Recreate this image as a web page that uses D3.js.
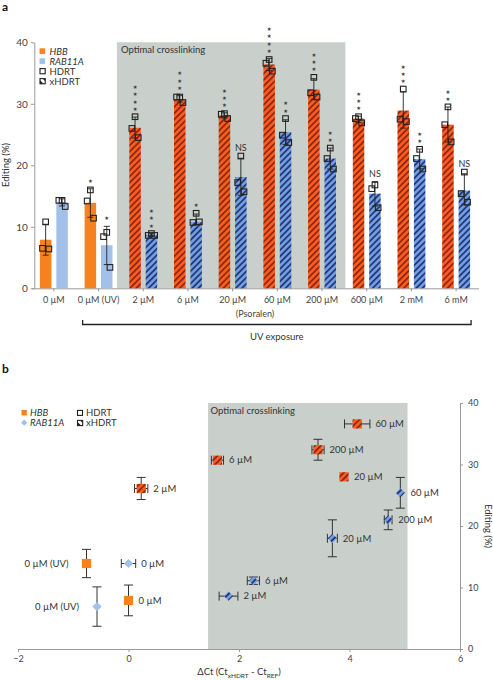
<!DOCTYPE html>
<html><head><meta charset="utf-8">
<script src="https://cdn.jsdelivr.net/npm/d3@7"></script>
<style>body{margin:0;background:#fff}svg{display:block;font-family:Lato,"Open Sans",sans-serif}</style>
</head><body><svg id="c" width="493" height="680"></svg>
<script>
// ---------- Panel a data ----------
const categories = ["0 µM","0 µM (UV)","2 µM","6 µM","20 µM","60 µM","200 µM","600 µM","2 mM","6 mM"];
const hbbMean = [7.9, 13.9, 26.1, 30.7, 28.1, 36.4, 32.3, 27.6, 28.9, 26.6];
const rabMean = [14.0, 7.0, 8.7, 10.8, 18.1, 25.4, 21.1, 15.4, 21.0, 15.9];
const hbbPoints = [[10.8,6.5,6.4],[16.0,14.2,11.4],[27.9,26.0,24.5],[31.1,31.1,30.2],[28.4,28.3,27.6],[37.2,36.6,35.3],[34.3,31.8,31.1],[27.9,27.6,26.9],[32.4,27.5,27.1],[29.5,26.6,23.8]];
const rabPoints = [[14.3,14.3,13.3],[9.1,8.4,3.4],[8.9,8.6,8.6],[12.2,10.7,10.8],[21.5,17.2,15.7],[27.6,24.9,23.7],[22.8,21.1,19.4],[16.8,16.2,13.1],[22.6,21.1,19.4],[18.9,15.4,14.0]];
const hbbSig = ["","*","****","***","***","****","***","***","***","**"];
const rabSig = ["","*","***","*","NS","**","**","NS","**","NS"];
const templateA = ["HDRT","HDRT","xHDRT","xHDRT","xHDRT","xHDRT","xHDRT","xHDRT","xHDRT","xHDRT"];
const shadedA = ["2 µM","200 µM"];
const yTicksA = [0,10,20,30,40];

// ---------- Panel b data ----------
const hbbLabelsB = ["0 µM","0 µM (UV)","2 µM","6 µM","20 µM","60 µM","200 µM"];
const hbbDct = [0.0, -0.76, 0.23, 1.61, 3.90, 4.14, 3.43];
const hbbDctErr = [0, 0, 0.12, 0.11, 0, 0.23, 0.11];
const hbbEdit = [7.9, 13.9, 26.1, 30.7, 28.0, 36.6, 32.4];
const hbbEditErr = [2.5, 2.3, 1.8, 0, 0, 0.4, 1.7];
const hbbTypeB = ["HDRT","HDRT","xHDRT","xHDRT","xHDRT","xHDRT","xHDRT"];
const hbbSideB = ["right","left","right","right","right","right","right"];
const rabLabelsB = ["0 µM","0 µM (UV)","2 µM","6 µM","20 µM","60 µM","200 µM"];
const rabDct = [0.0, -0.57, 1.81, 2.26, 3.69, 4.92, 4.70];
const rabDctErr = [0.13, 0, 0.17, 0.11, 0.09, 0, 0.07];
const rabEdit = [13.9, 6.9, 8.6, 11.1, 18.0, 25.4, 21.0];
const rabEditErr = [0, 3.2, 0, 0.6, 3.0, 2.5, 1.6];
const rabTypeB = ["HDRT","HDRT","xHDRT","xHDRT","xHDRT","xHDRT","xHDRT"];
const rabSideB = ["right","left","right","right","right","right","right"];
const shadedB = [1.44, 5.05];
const xTicksB = [-2,0,2,4,6];
const yTicksB = [0,10,20,30,40];

// ---------- styles ----------
const C = {orange:"#f5821f", blue:"#a3c1e8", gray:"#c9cfcb", axis:"#9a9a9a", text:"#333", ink:"#222"};
const svg = d3.select("#c");
const defs = svg.append("defs");
function hatch(id, base, stripe){
  const s=4.4;
  const p=defs.append("pattern").attr("id",id).attr("patternUnits","userSpaceOnUse")
    .attr("width",s).attr("height",s).attr("patternTransform","rotate(45)");
  p.append("rect").attr("width",s).attr("height",s).attr("fill",base);
  p.append("rect").attr("width",1.7).attr("height",s).attr("fill",stripe);
}
hatch("hO","#ff5a20","#8a2812");
hatch("hB","#6f9de6","#25346e");

function mean(a){return d3.mean(a);}
function sd(a){return d3.deviation(a);}

// ================= PANEL A =================
svg.append("text").attr("x",2).attr("y",11).attr("font-weight","bold").attr("font-size",12).attr("fill","#111").text("a");

const xA = d3.scaleBand().domain(categories).range([31.5,478.5]);
const yA = d3.scaleLinear().domain([0,40]).range([288.3,42.3]);
const bw = 11.5, off = 8.2;
const gA = svg.append("g");

// shading
gA.append("rect").attr("x",xA(shadedA[0])-4).attr("y",yA(40))
  .attr("width",xA(shadedA[1])+xA.bandwidth()+1-(xA(shadedA[0])-4))
  .attr("height",yA(0)-yA(40)).attr("fill",C.gray);
gA.append("text").attr("x",xA(shadedA[0])).attr("y",yA(40)+11).attr("font-size",9.5).attr("fill",C.text).text("Optimal crosslinking");

// axes
const yAx = gA.append("g").attr("transform","translate(34.3,0)")
  .call(d3.axisLeft(yA).tickValues(yTicksA).tickSize(3.5).tickSizeOuter(0).tickPadding(3));
const xAx = gA.append("g").attr("transform",`translate(0,${yA(0)})`)
  .call(d3.axisBottom(xA).tickSize(3).tickSizeOuter(0).tickPadding(5));
[yAx,xAx].forEach(a=>{
  a.select(".domain").attr("stroke",C.axis);
  a.selectAll(".tick line").attr("stroke",C.axis);
  a.selectAll(".tick text").attr("fill","#444").attr("font-size",9).attr("font-family","Lato,sans-serif");
});
yAx.selectAll(".tick text").attr("font-size",10);

svg.append("text").attr("transform","translate(9,165) rotate(-90)").attr("text-anchor","middle")
  .attr("font-size",9.5).attr("fill",C.text).text("Editing (%)");

// bars
const jitter = [0,-3.2,3.2];
function drawGroup(means, pts, sig, dx, solid, pat){
  categories.forEach((c,i)=>{
    const cx = xA(c)+xA.bandwidth()/2+dx;
    const fill = templateA[i]==="HDRT" ? solid : `url(#${pat})`;
    gA.append("rect").attr("x",cx-bw/2).attr("y",yA(means[i])).attr("width",bw)
      .attr("height",yA(0)-yA(means[i])).attr("fill",fill);
  });
  categories.forEach((c,i)=>{
    const cx = xA(c)+xA.bandwidth()/2+dx;
    const m = mean(pts[i]), s = sd(pts[i]);
    const lo = m-s, hi = m+s;
    gA.append("line").attr("x1",cx).attr("x2",cx).attr("y1",yA(lo)).attr("y2",yA(hi)).attr("stroke",C.ink).attr("stroke-width",0.9);
    [lo,hi].forEach(v=>gA.append("line").attr("x1",cx-3).attr("x2",cx+3).attr("y1",yA(v)).attr("y2",yA(v)).attr("stroke",C.ink).attr("stroke-width",0.9));
    pts[i].forEach((v,k)=>{
      gA.append("rect").attr("x",cx+jitter[k]-2.8).attr("y",yA(v)-2.8).attr("width",5.6).attr("height",5.6)
        .attr("fill","none").attr("stroke",C.ink).attr("stroke-width",1.1);
    });
    const top = Math.max(d3.max(pts[i]), hi);
    if(sig[i]==="NS"){
      gA.append("text").attr("x",cx).attr("y",yA(top)-5).attr("text-anchor","middle")
        .attr("font-size",9).attr("fill",C.text).text("NS");
    } else {
      for(let k=0;k<sig[i].length;k++){
        const yc = yA(top)-8-k*7.2;
        gA.append("text").attr("x",cx).attr("y",yc+2.1).attr("text-anchor","middle")
          .attr("font-family","DejaVu Sans").attr("font-size",5.4).attr("fill","#3a3a3a").text("★");
      }
    }
  });
}
drawGroup(hbbMean,hbbPoints,hbbSig,-off,C.orange,"hO");
drawGroup(rabMean,rabPoints,rabSig,off,C.blue,"hB");

// x labels extras
svg.append("text").attr("x",(xA.range()[0]+xA.range()[1])/2).attr("y",317).attr("text-anchor","middle")
  .attr("font-size",9).attr("fill","#444").text("(Psoralen)");
const bx0 = xA(categories[1])+xA.bandwidth()/2-off-bw/2-2, bx1 = xA(categories[9])+xA.bandwidth()/2+off+bw/2+1;
svg.append("path").attr("d",`M${bx0},320 V324.5 H${bx1} V320`).attr("fill","none").attr("stroke","#222").attr("stroke-width",1.3);
svg.append("text").attr("x",(bx0+bx1)/2).attr("y",340).attr("text-anchor","middle").attr("font-size",9.5).attr("fill",C.text).text("UV exposure");

// legend a
const lgA = svg.append("g").attr("font-size",9.5).attr("fill",C.text);
lgA.append("rect").attr("x",39.5).attr("y",48.3).attr("width",5.6).attr("height",5.6).attr("fill",C.orange);
lgA.append("text").attr("x",49.5).attr("y",54.8).attr("font-style","italic").text("HBB");
lgA.append("rect").attr("x",39.5).attr("y",58.3).attr("width",5.6).attr("height",5.6).attr("fill",C.blue);
lgA.append("text").attr("x",49.5).attr("y",64.8).attr("font-style","italic").text("RAB11A");
lgA.append("rect").attr("x",40).attr("y",68.6).attr("width",5.2).attr("height",5.2).attr("fill","none").attr("stroke",C.ink).attr("stroke-width",1.1);
lgA.append("text").attr("x",49.5).attr("y",75).text("HDRT");
function xIcon(g,x,y){
  g.append("path").attr("d",`M${x},${y+5.2} L${x},${y+1.6} L${x+3.6},${y+5.2} Z M${x+2.6},${y} L${x+5.2},${y} L${x+5.2},${y+2.6} Z`).attr("fill",C.ink);
  g.append("rect").attr("x",x).attr("y",y).attr("width",5.2).attr("height",5.2).attr("fill","none").attr("stroke",C.ink).attr("stroke-width",1.1);
}
xIcon(lgA,40,78.6);
lgA.append("text").attr("x",49.5).attr("y",85).text("xHDRT");

// ================= PANEL B =================
svg.append("text").attr("x",2).attr("y",373).attr("font-weight","bold").attr("font-size",12).attr("fill","#111").text("b");
const xB = d3.scaleLinear().domain([-2,6]).range([18,460]);
const yB = d3.scaleLinear().domain([0,40]).range([649,403]);
const gB = svg.append("g");
gB.append("rect").attr("x",xB(shadedB[0])).attr("y",yB(40)).attr("width",xB(shadedB[1])-xB(shadedB[0]))
  .attr("height",yB(0)-yB(40)).attr("fill",C.gray);
gB.append("text").attr("x",xB(shadedB[0])+2.5).attr("y",yB(40)+11).attr("font-size",9.5).attr("fill",C.text).text("Optimal crosslinking");

const xBx = gB.append("g").attr("transform",`translate(0,${yB(0)})`)
  .call(d3.axisBottom(xB).tickValues(xTicksB).tickSize(3).tickSizeOuter(0).tickPadding(4));
const yBx = gB.append("g").attr("transform",`translate(${xB(6)},0)`)
  .call(d3.axisRight(yB).tickValues(yTicksB).tickSize(3).tickSizeOuter(0).tickPadding(5));
[xBx,yBx].forEach(a=>{
  a.select(".domain").attr("stroke",C.axis);
  a.selectAll(".tick line").attr("stroke",C.axis);
  a.selectAll(".tick text").attr("fill","#444").attr("font-size",9).attr("font-family","Lato,sans-serif");
});
const xt = svg.append("text").attr("x",239).attr("y",675).attr("text-anchor","middle").attr("font-size",9.5).attr("fill",C.text);
xt.append("tspan").text("ΔCt (Ct");
xt.append("tspan").attr("font-size",6.5).attr("dy",2.5).text("xHDRT");
xt.append("tspan").attr("dy",-2.5).text(" - Ct");
xt.append("tspan").attr("font-size",6.5).attr("dy",2.5).text("REF");
xt.append("tspan").attr("dy",-2.5).text(")");
svg.append("text").attr("transform","translate(485,526) rotate(90)").attr("text-anchor","middle")
  .attr("font-size",9.5).attr("fill",C.text).text("Editing (%)");

function drawB(labels,dct,dctErr,edit,editErr,type,side,shape,solid,pat){
  labels.forEach((lab,i)=>{
    const cx=xB(dct[i]), cy=yB(edit[i]);
    if(editErr[i]>0){
      const y1=yB(edit[i]-editErr[i]), y2=yB(edit[i]+editErr[i]);
      gB.append("line").attr("x1",cx).attr("x2",cx).attr("y1",y1).attr("y2",y2).attr("stroke","#333").attr("stroke-width",1);
      [y1,y2].forEach(y=>gB.append("line").attr("x1",cx-4.5).attr("x2",cx+4.5).attr("y1",y).attr("y2",y).attr("stroke","#333").attr("stroke-width",1));
    }
    if(dctErr[i]>0){
      const x1=xB(dct[i]-dctErr[i]), x2=xB(dct[i]+dctErr[i]);
      gB.append("line").attr("x1",x1).attr("x2",x2).attr("y1",cy).attr("y2",cy).attr("stroke","#333").attr("stroke-width",1);
      [x1,x2].forEach(x=>gB.append("line").attr("x1",x).attr("x2",x).attr("y1",cy-4.5).attr("y2",cy+4.5).attr("stroke","#333").attr("stroke-width",1));
    }
    const fill = type[i]==="HDRT" ? solid : `url(#${pat})`;
    if(shape==="square"){
      gB.append("rect").attr("x",cx-4.6).attr("y",cy-4.6).attr("width",9.2).attr("height",9.2).attr("fill",fill);
    } else {
      const r=4.6;
      gB.append("path").attr("d",`M${cx},${cy-r} L${cx+r},${cy} L${cx},${cy+r} L${cx-r},${cy} Z`).attr("fill",fill);
    }
    const t = gB.append("text").attr("y",cy+3.3).attr("font-size",9.5).attr("fill",C.text).text(lab);
    if(side[i]==="left"){
      t.attr("x",cx-18).attr("text-anchor","end");
    } else {
      const edge = Math.max(cx+4.6, xB(dct[i]+dctErr[i]));
      t.attr("x",edge+5.5);
    }
  });
}
drawB(hbbLabelsB,hbbDct,hbbDctErr,hbbEdit,hbbEditErr,hbbTypeB,hbbSideB,"square",C.orange,"hO");
drawB(rabLabelsB,rabDct,rabDctErr,rabEdit,rabEditErr,rabTypeB,rabSideB,"diamond",C.blue,"hB");

// legend b
const lgB = svg.append("g").attr("font-size",9.5).attr("fill",C.text);
lgB.append("rect").attr("x",21.5).attr("y",410).attr("width",5.4).attr("height",5.4).attr("fill",C.orange);
lgB.append("text").attr("x",30).attr("y",416.2).attr("font-style","italic").text("HBB");
lgB.append("path").attr("d","M24.2,419.6 L27.3,422.7 L24.2,425.8 L21.1,422.7 Z").attr("fill",C.blue);
lgB.append("text").attr("x",30).attr("y",426.2).attr("font-style","italic").text("RAB11A");
lgB.append("rect").attr("x",77.5).attr("y",410.4).attr("width",5).attr("height",5).attr("fill","none").attr("stroke",C.ink).attr("stroke-width",1.1);
lgB.append("text").attr("x",86).attr("y",416.2).text("HDRT");
xIcon(lgB,77.5,420.4);
lgB.append("text").attr("x",86).attr("y",426.2).text("xHDRT");
</script></body></html>
